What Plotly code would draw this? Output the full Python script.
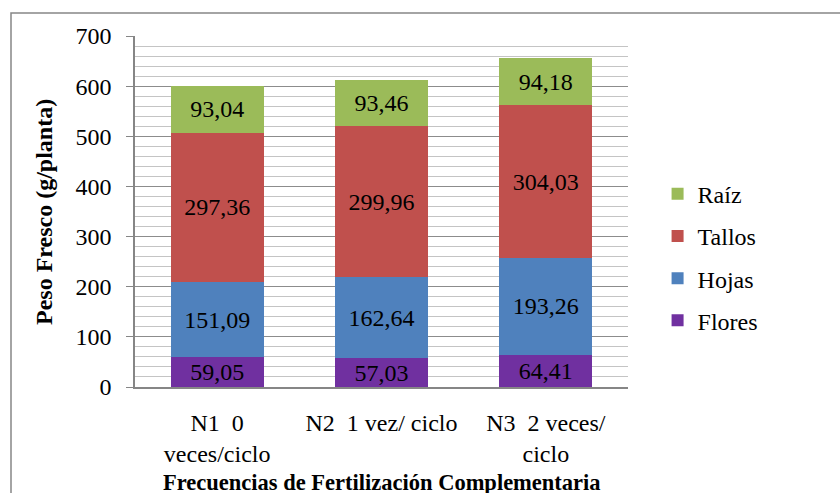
import plotly.graph_objects as go

categories = ["N1\u00a0 0<br>veces/ciclo", "N2\u00a0 1 vez/ ciclo", "N3\u00a0 2 veces/<br>ciclo"]
flores = [59.05, 57.03, 64.41]
hojas = [151.09, 162.64, 193.26]
tallos = [297.36, 299.96, 304.03]
raiz = [93.04, 93.46, 94.18]
series_names = ["Flores", "Hojas", "Tallos", "Raíz"]
series_colors = ["#7030A0", "#4F81BD", "#C0504D", "#9BBB59"]
legend_ranks = [4, 3, 2, 1]
y_ticks = [0, 100, 200, 300, 400, 500, 600, 700]

FONT = "Liberation Serif"
FS = 24

def fmt(v):
    return f"{v:.2f}".replace(".", ",")

fig = go.Figure()
for name, vals, col, rk in zip(series_names, [flores, hojas, tallos, raiz], series_colors, legend_ranks):
    fig.add_trace(go.Bar(
        x=categories, y=vals, name=name, legendgroup=name, legendrank=rk,
        marker=dict(color=col, line=dict(width=0)),
        text=[fmt(v) for v in vals], textposition="inside",
        insidetextanchor="middle", constraintext="none",
        textfont=dict(family=FONT, size=FS, color="black"),
        hoverinfo="skip",
    ))

fig.update_layout(
    barmode="stack", bargap=0.434,
    width=840, height=493,
    margin=dict(l=135, r=212, t=36, b=106),
    paper_bgcolor="white", plot_bgcolor="white",
    font=dict(family=FONT, size=FS, color="black"),
    showlegend=True,
    legend=dict(
        x=1.06, y=0.37, xanchor="left", yanchor="middle",
        traceorder="grouped", tracegroupgap=8,
        font=dict(family=FONT, size=FS, color="black"),
        itemwidth=30,
    ),
    xaxis=dict(
        showgrid=False, showline=True, linecolor="#868686", linewidth=1.5,
        ticks="", ticklabelstandoff=13,
        tickfont=dict(family=FONT, size=FS, color="black"),
    ),
    yaxis=dict(
        range=[0, 700], tickvals=y_ticks,
        showgrid=True, gridcolor="#8C8C8C", gridwidth=1,
        minor=dict(dtick=20, showgrid=True, gridcolor="#C4C4C4", gridwidth=1),
        showline=True, linecolor="#868686", linewidth=1.5,
        ticks="outside", ticklen=7, tickcolor="#868686",
        ticklabelstandoff=10,
        tickfont=dict(family=FONT, size=FS, color="black"),
        zeroline=False,
    ),
    annotations=[
        dict(text="<b>Peso Fresco (g/planta)</b>", xref="paper", yref="paper",
             x=(44 - 135) / 493, y=(387 - 212) / 351, textangle=-90,
             showarrow=False, xanchor="center", yanchor="middle",
             font=dict(family=FONT, size=24, color="black")),
        dict(text="<b>Frecuencias de Fertilización Complementaria</b>", xref="paper", yref="paper",
             x=0.5, y=(387 - 482) / 351, showarrow=False,
             xanchor="center", yanchor="middle",
             font=dict(family=FONT, size=22.5, color="black")),
    ],
    shapes=[
        dict(type="rect", xref="paper", yref="paper",
             x0=(11 - 135) / 493, x1=(900 - 135) / 493,
             y0=(387 - 560) / 351, y1=(387 - 13) / 351,
             line=dict(color="#868686", width=1.5), fillcolor="rgba(0,0,0,0)", layer="below"),
    ],
)

fig.write_html("out.html", config={"displayModeBar": False},
               post_script="document.body.style.margin='0px';document.body.style.overflow='hidden';")
